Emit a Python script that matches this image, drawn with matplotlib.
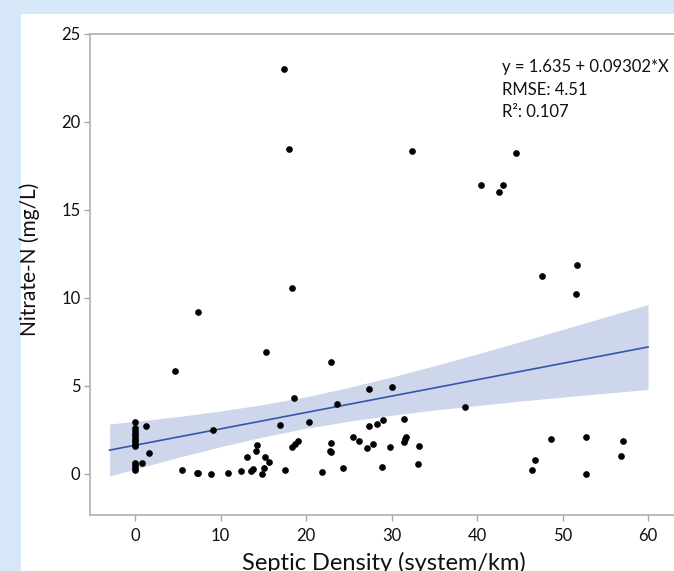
import matplotlib.pyplot as plt
from matplotlib.patches import Rectangle

plt.rcParams['font.family'] = ['Lato', 'DejaVu Sans']

# septic density (system/km) and nitrate-N (mg/L) for each well
septic = [0, 0, 0, 0, 0, 0, 0, 0, 0, 0, 0, 0, 0,
          0.8, 1.3, 1.6, 4.6, 5.5, 7.2, 7.3, 7.4, 8.9, 9.1,
          10.8, 12.4, 13.1, 13.5, 13.8, 14.15, 14.2, 14.8, 15.1, 15.2,
          15.3, 15.6, 16.9, 17.4, 17.5, 18.0, 18.3, 18.4, 18.6, 18.7,
          19.1, 20.3, 21.8, 22.8, 22.9, 22.9, 22.9, 23.6, 24.3, 25.5,
          26.2, 27.1, 27.3, 27.4, 27.8, 28.3, 28.9, 29.0, 29.8, 30.1,
          31.4, 31.4, 31.6, 31.7, 32.4, 33.1, 33.2, 38.6, 40.4, 42.6,
          43.0, 44.5, 46.4, 46.8, 47.6, 48.7, 51.6, 51.7, 52.8, 52.8,
          56.8, 57.1]
nitrate = [2.97, 2.6, 2.45, 2.3, 2.15, 2.0, 1.85, 1.7, 1.6, 0.65, 0.5, 0.35, 0.2,
           0.6, 2.73, 1.21, 5.85, 0.21, 0.03, 0.08, 9.19, 0.0, 2.5,
           0.03, 0.19, 0.95, 0.19, 0.3, 1.31, 1.62, 0.0, 0.32, 0.95,
           6.93, 0.68, 2.78, 23.0, 0.23, 18.47, 10.55, 1.52, 4.34, 1.7,
           1.89, 2.95, 0.1, 1.31, 1.23, 1.78, 6.38, 3.96, 0.36, 2.12,
           1.89, 1.46, 4.81, 2.75, 1.7, 2.86, 0.42, 3.05, 1.52, 4.94,
           3.14, 1.84, 2.01, 2.09, 18.37, 0.57, 1.57, 3.83, 16.42, 16.0,
           16.42, 18.22, 0.23, 0.81, 11.27, 1.99, 10.23, 11.87, 2.09, 0.0,
           1.04, 1.86]

# fitted line and its confidence band
intercept = 1.635
slope = 0.09302
rmse = 4.51
r2 = 0.107
band_x = [-3, 0, 5, 10, 15, 20, 25, 30, 35, 40, 45, 50, 55, 60]
band_hi = [2.84, 2.99, 3.26, 3.58, 3.95, 4.39, 4.92, 5.51, 6.15, 6.82, 7.51, 8.21, 8.92, 9.63]
band_lo = [-0.12, 0.28, 0.94, 1.55, 2.11, 2.60, 3.00, 3.34, 3.63, 3.89, 4.14, 4.37, 4.59, 4.80]

xticks = [0, 10, 20, 30, 40, 50, 60]
yticks = [0, 5, 10, 15, 20, 25]

W, H = 674, 571
fig = plt.figure(figsize=(W / 100, H / 100), dpi=100, facecolor='#d6e8f7')
# white panel behind the plot
fig.patches.append(Rectangle((21 / W, 0), 1, 1 - 14 / H, transform=fig.transFigure,
                             facecolor='white', edgecolor='none', zorder=-5))

ax = fig.add_axes([89.5 / W, 56 / H, 644 / W, 481 / H])
ax.set_zorder(2)
ax.set_xlim(-5.35, 70)
ax.set_ylim(-2.33, 25)

ax.fill_between(band_x, band_lo, band_hi, color='#cdd6ea', linewidth=0, zorder=1)
line_x = [band_x[0], band_x[-1]]
ax.plot(line_x, [intercept + slope * v for v in line_x], color='#3656ad', lw=1.2, zorder=2)
ax.plot(septic, nitrate, 'o', color='black', ms=3.8, zorder=3)

ax.text(0.6405, 0.9216, 'y = %.3f + %.5f*X' % (intercept, slope), transform=ax.transAxes,
        fontsize=12, va='baseline', color='#111111')
ax.text(0.6405, 0.8732, 'RMSE: %.2f' % rmse, transform=ax.transAxes,
        fontsize=12, va='baseline', color='#111111')
ax.text(0.6405, 0.8281, 'R\u00b2: %.3f' % r2, transform=ax.transAxes,
        fontsize=12, va='baseline', color='#111111')

ax.set_xticks(xticks)
ax.set_yticks(yticks)
ax.tick_params(length=4.5, width=1, color='#a8a8a8', labelsize=12, labelcolor='#111111')
ax.tick_params(axis='x', pad=5)
ax.tick_params(axis='y', pad=2)
for side in ['left', 'top', 'bottom']:
    ax.spines[side].set_color('#b0b0b0')
    ax.spines[side].set_linewidth(1.2)
ax.spines['right'].set_visible(False)

ax.set_xlabel('Septic Density (system/km)', fontsize=17, color='#111111')
ax.xaxis.set_label_coords(0.4565, -0.077)
ax.set_ylabel('Nitrate-N (mg/L)', fontsize=15, color='#111111')
ax.yaxis.set_label_coords(-0.077, 0.532)

fig.savefig('out.png', dpi=100, facecolor=fig.get_facecolor())
